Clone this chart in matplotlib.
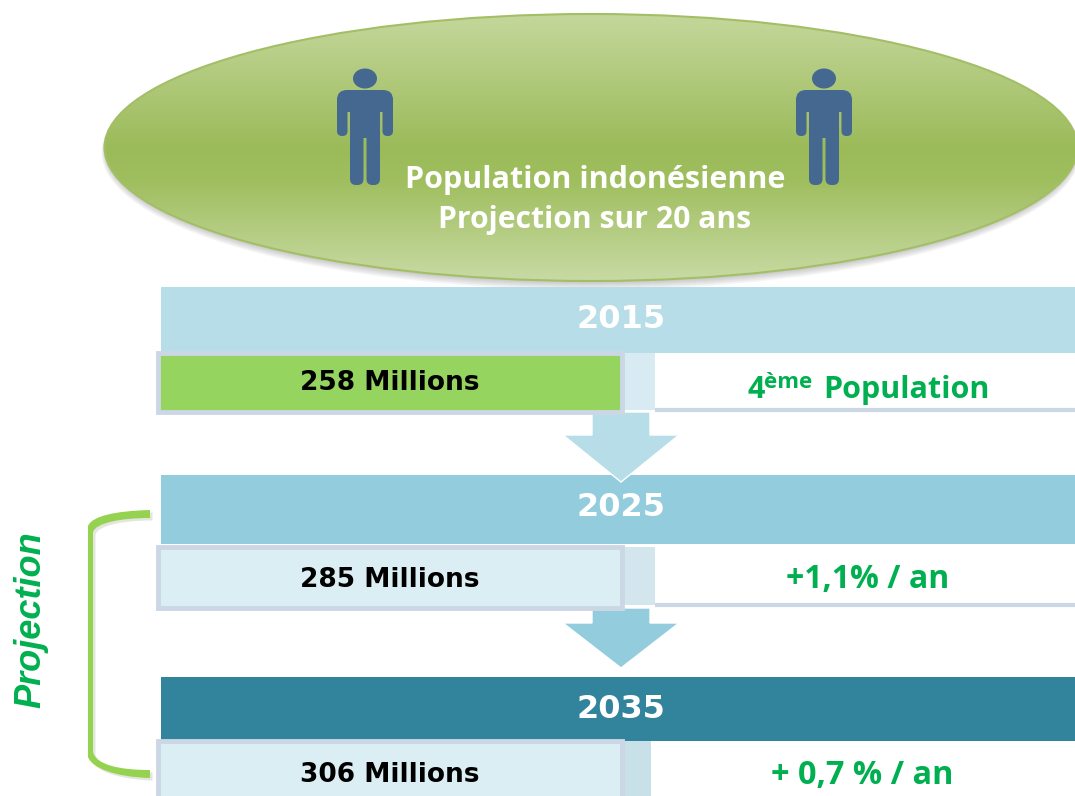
import numpy as np
import matplotlib
matplotlib.use("Agg")
import matplotlib.pyplot as plt
from matplotlib.patches import Ellipse, Rectangle, Polygon, FancyBboxPatch, PathPatch
from matplotlib.path import Path
from matplotlib.colors import LinearSegmentedColormap
from matplotlib.transforms import ScaledTranslation

plt.rcParams['font.family'] = ['Open Sans', 'DejaVu Sans']

# ---------- Content ----------
title_lines = ["Population indonésienne", "Projection sur 20 ans"]
years = ["2015", "2025", "2035"]
populations = ["258 Millions", "285 Millions", "306 Millions"]
notes = ["Population", "+1,1% / an", "+ 0,7 % / an"]
side_label = "Projection"

# ---------- Layout, in reference pixels ----------
header_top = [287, 475, 677]
header_bot = [353, 544, 741]
row_top = [353, 547, 741]
row_bot = [412, 608, 800]
white_bot = [410, 605, 800]
year_y = [319, 508, 710]
pop_y = [383, 580, 775]
header_col = ["#b7dde8", "#93cddd", "#31849b"]
left_col = ["#95d45f", "#dbeef4", "#dbeef4"]
gap_col = ["#d8ebf3", "#d3e6ed", "#c8e0e8"]
gap_end = [655, 655, 651]
border = "#ccd7e6"
green = "#00b050"

fig = plt.figure(figsize=(10.75, 7.96), dpi=100)
ax = fig.add_axes([0, 0, 1, 1])
ax.set_xlim(0, 1075)
ax.set_ylim(796, 0)
ax.axis("off")

# ---------- Ellipse with soft shadow and gradient ----------
for i in range(8):
    ax.add_patch(Ellipse((591, 149 + i * 0.5), 972 + i, 268 + i, fc="#444444",
                         alpha=0.035, ec="none", zorder=1))
cmap = LinearSegmentedColormap.from_list(
    "oval", [(0, "#c4d79c"), (0.5, "#9bbb59"), (0.62, "#9fbe5e"), (1, "#c8daa4")])
grad = np.linspace(0, 1, 256).reshape(-1, 1)
im = ax.imshow(grad, extent=[100, 1080, 281, 14], cmap=cmap, aspect="auto", zorder=2)
oval = Ellipse((591, 147.5), 973, 267, fc="none", ec="#a3bf66", lw=1.5, zorder=3)
ax.add_patch(oval)
im.set_clip_path(oval)
ax.set_xlim(0, 1075)
ax.set_ylim(796, 0)


def rounded(x, y, w, h, r, col, z=4):
    ax.add_patch(FancyBboxPatch((x, y), w, h, boxstyle=f"round,pad=0,rounding_size={r}",
                                fc=col, ec="none", zorder=z))


def person(cx):
    # pictogram, same shape twice
    col = "#44688f"
    ax.add_patch(Ellipse((cx, 78.5), 24, 20, fc=col, ec="none", zorder=4))
    rounded(cx - 28, 90, 56, 22, 10, col)
    rounded(cx - 28, 96, 10.5, 40, 5, col)
    rounded(cx + 17.5, 96, 10.5, 40, 5, col)
    ax.add_patch(Rectangle((cx - 15, 98), 30, 40, fc=col, ec="none", zorder=4))
    rounded(cx - 15, 125, 13.5, 60, 6, col)
    rounded(cx + 1.5, 125, 13.5, 60, 6, col)


person(365)
person(824)

ax.text(595, 180, title_lines[0], color="white", fontsize=22, fontweight="bold",
        ha="center", va="center", zorder=7)
ax.text(595, 220, title_lines[1], color="white", fontsize=21.7, fontweight="bold",
        ha="center", va="center", zorder=7)

# ---------- Arrows between the blocks ----------
arrow_top = [412, 608]
arrow_neck = [435, 623]
arrow_tip = [482, 668]
for i in range(2):
    ax.add_patch(Polygon([(592, arrow_top[i]), (650, arrow_top[i]), (650, arrow_neck[i]),
                          (679, arrow_neck[i]), (621, arrow_tip[i]), (563, arrow_neck[i]),
                          (592, arrow_neck[i])],
                         closed=True, fc=header_col[i], ec="white", lw=1, zorder=4))

# ---------- Rows ----------
for i in range(3):
    ax.add_patch(Rectangle((161, header_top[i]), 914, header_bot[i] - header_top[i],
                           fc=header_col[i], ec="none", zorder=3))
    ax.text(621, year_y[i], years[i], color="white", fontsize=23, fontweight="bold",
            ha="center", va="center", family=["DejaVu Sans"], zorder=6)
    t, b = row_top[i], row_bot[i]
    ax.add_patch(Rectangle((655, header_bot[i]), 430, white_bot[i] - header_bot[i], fc="white",
                           ec="none", zorder=3))
    ax.plot([655, 1075], [white_bot[i], white_bot[i]], color=border, lw=3, zorder=3,
            solid_capstyle="butt")
    ax.add_patch(Rectangle((622, t), gap_end[i] - 622, white_bot[i] - t, fc=gap_col[i],
                           ec="none", zorder=4))
    ax.add_patch(Rectangle((158, t), 464, b - t, fc=left_col[i], ec=border, lw=3.5, zorder=5))
    ax.text(390, pop_y[i], populations[i], color="black", fontsize=19, fontweight="bold",
            ha="center", va="center", family=["DejaVu Sans"], zorder=6)

# notes: the first one has a superscript
ax.text(747, 390, "4", color=green, fontsize=22, fontweight="bold", ha="left", va="center", zorder=6)
ax.text(764, 382, "ème", color=green, fontsize=16, fontweight="bold", ha="left", va="center", zorder=6)
ax.text(823, 390, notes[0], color=green, fontsize=22, fontweight="bold", ha="left", va="center", zorder=6)
ax.text(868, 579, notes[1], color=green, fontsize=23, fontweight="bold", ha="center", va="center", zorder=6)
ax.text(862, 775, notes[2], color=green, fontsize=23.4, fontweight="bold", ha="center", va="center", zorder=6)

# ---------- Bracket and side label ----------
brace = Path([(150, 510), (115, 511), (92, 516), (88, 526), (88, 757), (92, 768), (115, 777), (150, 778),
              (150, 770), (120, 770), (96, 765), (93, 752), (93, 532), (96, 523), (120, 518), (150, 518),
              (150, 510)],
             [Path.MOVETO, Path.CURVE4, Path.CURVE4, Path.CURVE4, Path.LINETO, Path.CURVE4, Path.CURVE4, Path.CURVE4,
              Path.LINETO, Path.CURVE4, Path.CURVE4, Path.CURVE4, Path.LINETO, Path.CURVE4, Path.CURVE4, Path.CURVE4,
              Path.CLOSEPOLY])
ax.add_patch(PathPatch(brace, fc="#c8cfc0", ec="none", alpha=0.5, zorder=2,
                       transform=ax.transData + ScaledTranslation(0.025, -0.025, fig.dpi_scale_trans)))
ax.add_patch(PathPatch(brace, fc="#95d250", ec="none", zorder=3))
ax.text(31, 620, side_label, color=green, fontsize=26, fontweight="bold", style="italic",
        rotation=90, ha="center", va="center", family=["Liberation Sans", "DejaVu Sans"], zorder=6)

fig.savefig("out.png", dpi=100)
plt.close(fig)
